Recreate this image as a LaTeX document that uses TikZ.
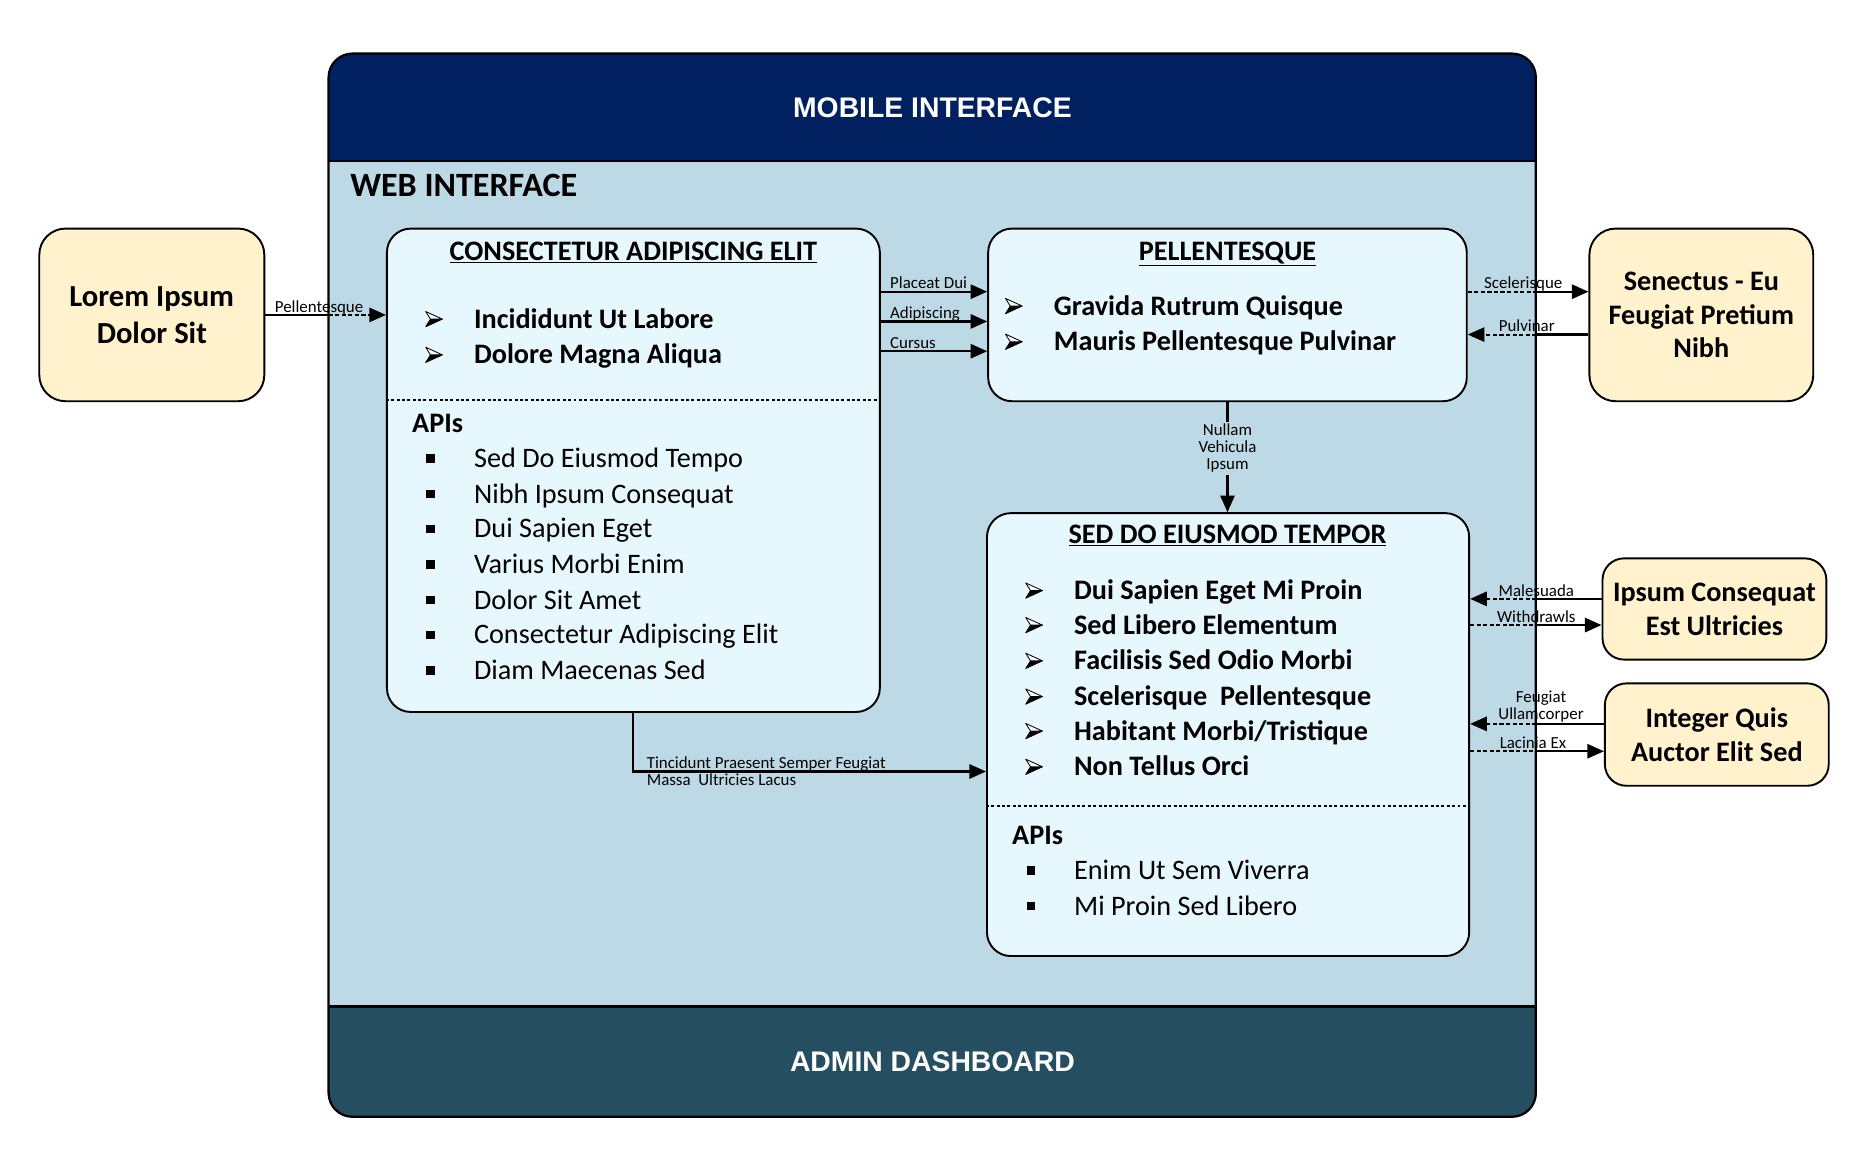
\documentclass[tikz,border=0pt]{standalone}
\usepackage{fontspec}
\setmainfont{Carlito}
\newfontfamily\barfont{Liberation Sans}
\usetikzlibrary{arrows.meta}

\definecolor{navy}{RGB}{0,32,96}
\definecolor{admin}{RGB}{37,79,97}
\definecolor{webblue}{RGB}{190,217,230}
\definecolor{boxcyan}{RGB}{231,247,254}
\definecolor{extyellow}{RGB}{255,242,204}

\newcommand\arr{\makebox[41pt][l]{\tikz[x=1pt,y=1pt,baseline=0pt,line width=0.7pt,line join=round]{
	\filldraw[fill=black] (0,1.2) -- (14,7.6) -- (4,7.6) -- cycle;
	\draw[fill=white] (0,14) -- (14,7.6) -- (4,7.6) -- cycle;}}}
\newcommand\sqb{\makebox[41pt][l]{\hspace{1pt}\rule[4pt]{7pt}{7pt}}}

\tikzset{
	band/.style={anchor=north west, minimum width=1014, inner sep=0pt, text=white, font=\fontsize{23.8}{28}\barfont\bfseries},
	module/.style={draw, line width=1.6pt, fill=boxcyan, rounded corners=20, inner sep=0pt},
	ext/.style={draw, line width=1.6pt, fill=extyellow, rounded corners=22, inner sep=0pt, align=center, font=\fontsize{23.7}{28.5}\selectfont\bfseries},
	title/.style={inner sep=0pt, text height=15.3pt, text depth=0pt, font=\fontsize{23.7}{28}\selectfont\bfseries},
	item/.style={anchor=west, inner sep=0pt, text height=15.3pt, text depth=0pt, font=\fontsize{23.7}{28}\selectfont\bfseries},
	api/.style={item, font=\fontsize{23.7}{28}\selectfont},
	lbl/.style={inner sep=1.5pt, text height=9.1pt, text depth=0pt, font=\fontsize{14.2}{14.5}\selectfont},
	lbl2/.style={inner sep=0.5pt, align=center, font=\fontsize{14.2}{14.2}\selectfont},
	link/.style={line width=1.8pt},
	dashlink/.style={line width=1.6pt, dash pattern=on 3.5pt off 2pt},
	sep/.style={line width=1.3pt, dash pattern=on 2.5pt off 2pt},
	>={Triangle[length=14pt,width=12pt]}
}

\begin{document}
\begin{tikzpicture}[x=1pt, y=-1pt]
	\useasboundingbox (0,0) rectangle (1569,974.5);

	% outer frame
	\begin{scope}
	\clip[rounded corners=20] (276,45) rectangle (1290,938);
	\node[band, fill=navy, minimum height=90] (mobile) at (276,45) {MOBILE INTERFACE};
	\node[band, fill=webblue, minimum height=710] (web) at (276,135) {};
	\node[band, fill=admin, minimum height=93] (admin) at (276,845) {ADMIN DASHBOARD};
	\end{scope}
	\draw[line width=1.9pt, rounded corners=20] (276,45) rectangle (1290,938);
	\draw[line width=1.9pt] (web.north west) -- (web.north east);
	\draw[line width=1.9pt] (web.south west) -- (web.south east);
	\node[title, anchor=west, font=\fontsize{28.6}{32}\selectfont\bfseries] (webtitle) at (294,157) {WEB INTERFACE};

	% boxes
	\node[ext, minimum width=189, minimum height=145, font=\fontsize{25.7}{31}\selectfont\bfseries] (lorem) at (127.5,264.5) {Lorem Ipsum\\Dolor Sit};
	\node[ext, minimum width=188, minimum height=145] (senectus) at (1429,264.5) {Senectus - Eu\\Feugiat Pretium\\Nibh};
	\node[ext, rounded corners=18, minimum width=188, minimum height=85] (ipsumcons) at (1440,511.5) {Ipsum Consequat\\Est Ultricies};
	\node[ext, rounded corners=18, minimum width=188, minimum height=86] (integer) at (1442,617) {Integer Quis\\Auctor Elit Sed};

	\node[module, minimum width=414, minimum height=406] (consect) at (532,395) {};
	\node[module, minimum width=402, minimum height=145] (pellent) at (1031,264.5) {};
	\node[module, minimum width=405, minimum height=372] (seddo) at (1031.5,617) {};

	% consectetur
	\node[title] (c-title) at (532,211) {\underline{CONSECTETUR ADIPISCING ELIT}};
	\node[item] (c-i1) at (357,268) {\arr Incididunt Ut Labore};
	\node[item] (c-i2) at (357,298) {\arr Dolore Magna Aliqua};
	\draw[sep] (consect.west |- 0,336) -- (consect.east |- 0,336);
	\node[item] (c-apis) at (346,356) {APIs};
	\node[api] (c-a1) at (357,385) {\sqb Sed Do Eiusmod Tempo};
	\node[api] (c-a2) at (357,415) {\sqb Nibh Ipsum Consequat};
	\node[api] (c-a3) at (357,444) {\sqb Dui Sapien Eget};
	\node[api] (c-a4) at (357,474) {\sqb Varius Morbi Enim};
	\node[api] (c-a5) at (357,504) {\sqb Dolor Sit Amet};
	\node[api] (c-a6) at (357,533) {\sqb Consectetur Adipiscing Elit};
	\node[api] (c-a7) at (357,563) {\sqb Diam Maecenas Sed};

	% pellentesque
	\node[title] (p-title) at (1031,211) {\underline{PELLENTESQUE}};
	\node[item] (p-i1) at (844,257) {\arr Gravida Rutrum Quisque};
	\node[item] (p-i2) at (844,287) {\arr Mauris Pellentesque Pulvinar};

	% sed do eiusmod
	\node[title] (s-title) at (1031,449) {\underline{SED DO EIUSMOD TEMPOR}};
	\node[item] (s-i1) at (861,496) {\arr Dui Sapien Eget Mi Proin};
	\node[item] (s-i2) at (861,525) {\arr Sed Libero Elementum};
	\node[item] (s-i3) at (861,555) {\arr Facilisis Sed Odio Morbi};
	\node[item] (s-i4) at (861,585) {\arr Scelerisque\ \ Pellentesque};
	\node[item] (s-i5) at (861,614) {\arr Habitant Morbi/Tristique};
	\node[item] (s-i6) at (861,644) {\arr Non Tellus Orci};
	\draw[sep] (seddo.west |- 0,677) -- (seddo.east |- 0,677);
	\node[item] (s-apis) at (850,702) {APIs};
	\node[api] (s-a1) at (861,731) {\sqb Enim Ut Sem Viverra};
	\node[api] (s-a2) at (861,761) {\sqb Mi Proin Sed Libero};

	% connectors
	\draw[link] (lorem.east) -- (lorem.east -| web.west) node[lbl, above, pos=0.85] {Pellentesque};
	\draw[dashlink, ->] (lorem.east -| web.west) -- (lorem.east -| consect.west);

	\draw[link, ->] (consect.east |- 0,245) -- (pellent.west |- 0,245) node[lbl, anchor=south west, pos=0, xshift=5.5pt] {Placeat Dui};
	\draw[link, ->] (consect.east |- 0,270) -- (pellent.west |- 0,270) node[lbl, anchor=south west, pos=0, xshift=5.5pt] {Adipiscing};
	\draw[link, ->] (consect.east |- 0,295) -- (pellent.west |- 0,295) node[lbl, anchor=south west, pos=0, xshift=5.5pt] {Cursus};

	\draw[link, ->] (pellent.south) -- (pellent.south |- seddo.north) node[lbl2, fill=webblue, inner sep=2pt, pos=0.42] {Nullam\\Vehicula\\Ipsum};

	\draw[dashlink] (pellent.east |- 0,245) -- (web.east |- 0,245) node[lbl, above, pos=0.81] {Scelerisque};
	\draw[link, ->] (web.east |- 0,245) -- (senectus.west |- 0,245);
	\draw[link] (senectus.west |- 0,281) -- (web.east |- 0,281);
	\draw[dashlink, ->] (web.east |- 0,281) -- (pellent.east |- 0,281) node[lbl, above, pos=0.14] {Pulvinar};

	\draw[link] (ipsumcons.west |- 0,503) -- (web.east |- 0,503) node[lbl, above, pos=1] {Malesuada};
	\draw[dashlink, ->] (web.east |- 0,503) -- (seddo.east |- 0,503);
	\draw[dashlink] (seddo.east |- 0,525) -- (web.east |- 0,525) node[lbl, above, pos=1] {Withdrawls};
	\draw[link, ->] (web.east |- 0,525) -- (ipsumcons.west |- 0,525);

	\draw[link] (integer.west |- 0,608) -- (web.east |- 0,608) node[lbl2, anchor=south, pos=0.93] {Feugiat\\Ullamcorper};
	\draw[dashlink, ->] (web.east |- 0,608) -- (seddo.east |- 0,608);
	\draw[dashlink] (seddo.east |- 0,631) -- (web.east |- 0,631) node[lbl, above, pos=0.95] {Lacinia Ex};
	\draw[link, ->] (web.east |- 0,631) -- (integer.west |- 0,631);

	\draw[link, ->] (consect.south) |- (seddo.west |- 0,648)
		node[lbl, anchor=south west, pos=0.515] {Tincidunt Praesent Semper Feugiat}
		node[lbl, anchor=north west, pos=0.515] {Massa\ \ Ultricies Lacus};
\end{tikzpicture}
\end{document}
